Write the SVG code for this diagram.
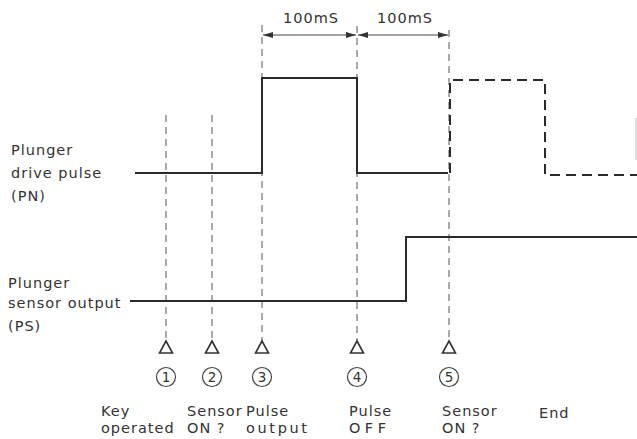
<svg xmlns="http://www.w3.org/2000/svg" width="637" height="439" viewBox="0 0 637 439">
<defs>
<marker id="arr" viewBox="0 0 10 6" refX="10" refY="3" markerWidth="10" markerHeight="6" markerUnits="userSpaceOnUse" orient="auto-start-reverse">
<path d="M0,0 L10,3 L0,6 Z" fill="#333"/>
</marker>
</defs>
<style>
text{font-family:"DejaVu Sans","Liberation Sans",sans-serif;font-size:14.5px;fill:#333;letter-spacing:1px}
.sig{fill:none;stroke:#2a2a2a;stroke-width:2}
.sigd{fill:none;stroke:#2a2a2a;stroke-width:2;stroke-dasharray:10 6}
.guide{fill:none;stroke:#555;stroke-width:1;stroke-dasharray:7 5}
.dim{fill:none;stroke:#444;stroke-width:1.2}
.tri{fill:#fff;stroke:#333;stroke-width:1.6}
.circ{fill:none;stroke:#444;stroke-width:1.2}
.num{font-size:13.5px;letter-spacing:0;text-anchor:middle}
</style>
<rect width="637" height="439" fill="#fff"/>
<g id="connectors">
<path class="guide" d="M166,115 V342"/>
<path class="guide" d="M212,115 V342"/>
<path class="guide" d="M262,25 V342"/>
<path class="guide" d="M357,26 V342"/>
<path class="guide" d="M449,30 V342"/>
<path class="dim" d="M263,35 H356" marker-start="url(#arr)" marker-end="url(#arr)"/>
<path class="dim" d="M358,35 H448" marker-start="url(#arr)" marker-end="url(#arr)"/>
</g>
<g id="pn-signal">
<path class="sig" d="M135,173 H262 V78 H357 V173 H448"/>
<path class="sigd" d="M450,173 V80 H545 V175 H637"/>
<path fill="none" stroke="#bbb" stroke-width="1" d="M636,118 V160"/>
</g>
<g id="ps-signal">
<path class="sig" d="M130,301 H406 V237 H637"/>
</g>
<g id="label-pn">
<text x="11" y="155">Plunger</text>
<text x="11" y="178">drive pulse</text>
<text x="11" y="201">(PN)</text>
</g>
<g id="label-ps">
<text x="8" y="288">Plunger</text>
<text x="8" y="308">sensor output</text>
<text x="8" y="331">(PS)</text>
</g>
<g id="dim-labels">
<text x="283" y="23">100mS</text>
<text x="377" y="23">100mS</text>
</g>
<g id="step1">
<path class="tri" d="M166,341 L172.5,353 H159.5 Z"/>
<circle class="circ" cx="166" cy="377" r="9.5"/>
<text class="num" x="166" y="382">1</text>
<text x="101" y="416">Key</text>
<text x="101" y="433">operated</text>
</g>
<g id="step2">
<path class="tri" d="M212,341 L218.5,353 H205.5 Z"/>
<circle class="circ" cx="212" cy="377" r="9.5"/>
<text class="num" x="212" y="382">2</text>
<text x="187" y="416">Sensor</text>
<text x="187" y="433">ON ?</text>
</g>
<g id="step3">
<path class="tri" d="M262,341 L268.5,353 H255.5 Z"/>
<circle class="circ" cx="262" cy="377" r="9.5"/>
<text class="num" x="262" y="382">3</text>
<text x="246" y="416">Pulse</text>
<text x="246" y="433" textLength="62" lengthAdjust="spacing">output</text>
</g>
<g id="step4">
<path class="tri" d="M357,341 L363.5,353 H350.5 Z"/>
<circle class="circ" cx="357" cy="377" r="9.5"/>
<text class="num" x="357" y="382">4</text>
<text x="349" y="416">Pulse</text>
<text x="349" y="433" textLength="38" lengthAdjust="spacing">OFF</text>
</g>
<g id="step5">
<path class="tri" d="M449,341 L455.5,353 H442.5 Z"/>
<circle class="circ" cx="449" cy="377" r="9.5"/>
<text class="num" x="449" y="382">5</text>
<text x="442" y="416">Sensor</text>
<text x="442" y="433">ON ?</text>
</g>
<g id="end">
<text x="539" y="418">End</text>
</g>
</svg>
